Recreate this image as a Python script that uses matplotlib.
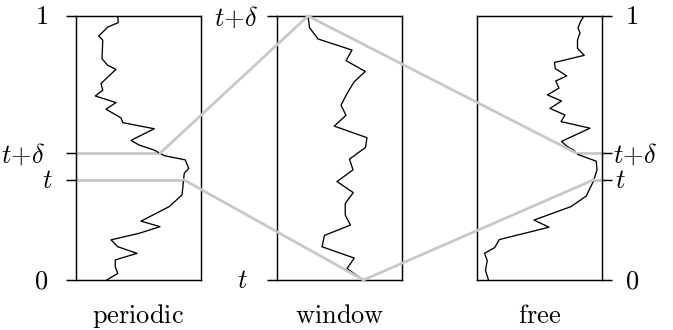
import numpy as np
import matplotlib
matplotlib.use('Agg')
import matplotlib.pyplot as plt
from matplotlib.patches import ConnectionPatch

plt.rcParams['font.family'] = 'serif'
plt.rcParams['font.serif'] = ['cmr10']
plt.rcParams['mathtext.fontset'] = 'cm'
plt.rcParams['axes.unicode_minus'] = False

## Window bounds (fraction of the full time range)
t = 0.38
delta = 0.10

## Curves, time going up
periodic_time = [0.0, 0.025, 0.050, 0.076, 0.101, 0.126, 0.152, 0.177, 0.202,
                 0.223, 0.278, 0.322, 0.366, 0.404, 0.423, 0.455, 0.471, 0.492,
                 0.511, 0.529, 0.573, 0.596, 0.614, 0.647, 0.672, 0.697, 0.719,
                 0.744, 0.756, 0.798, 0.813, 0.838, 0.908, 0.924, 0.958, 0.975, 1.0]
periodic_value = [0.246, 0.334, 0.314, 0.314, 0.488, 0.334, 0.280, 0.506, 0.672,
                  0.520, 0.746, 0.848, 0.858, 0.866, 0.902, 0.874, 0.706, 0.626,
                  0.506, 0.440, 0.626, 0.374, 0.360, 0.240, 0.320, 0.154, 0.214,
                  0.200, 0.226, 0.320, 0.254, 0.208, 0.214, 0.182, 0.254, 0.338, 0.334]

# window axis runs from t (0) to t+delta (1)
window_time = [0.0, 0.043, 0.083, 0.126, 0.169, 0.208, 0.246, 0.290, 0.331,
               0.373, 0.417, 0.458, 0.502, 0.539, 0.583, 0.624, 0.662, 0.706,
               0.750, 0.790, 0.831, 0.871, 0.913, 0.956, 1.0]
window_value = [0.692, 0.560, 0.618, 0.360, 0.380, 0.588, 0.546, 0.546, 0.610,
                0.480, 0.608, 0.580, 0.708, 0.720, 0.458, 0.552, 0.512, 0.560,
                0.616, 0.706, 0.552, 0.600, 0.328, 0.260, 0.248]

free_time = [0.0, 0.036, 0.074, 0.101, 0.123, 0.153, 0.200, 0.227, 0.278, 0.318,
             0.375, 0.417, 0.450, 0.476, 0.491, 0.506, 0.525, 0.575, 0.600, 0.625,
             0.650, 0.678, 0.701, 0.727, 0.754, 0.773, 0.801, 0.824, 0.851, 0.877,
             0.909, 0.936, 0.955, 0.979, 1.0]
free_value = [0.092, 0.068, 0.082, 0.060, 0.142, 0.178, 0.576, 0.456, 0.752, 0.874,
              0.932, 0.960, 0.954, 0.804, 0.776, 0.720, 0.676, 0.904, 0.672, 0.704,
              0.584, 0.676, 0.564, 0.656, 0.630, 0.718, 0.626, 0.620, 0.858, 0.804,
              0.804, 0.824, 0.808, 0.828, 0.856]

panel_names = ['periodic', 'window', 'free']

## Style
FS = 19
GREY = '#c8c8c8'
GREY_LW = 2.0
LINE_LW = 0.95
BOX_LW = 1.05

fig = plt.figure(figsize=(6.73, 3.30), dpi=100)
W = 125 / 673.
H = 264 / 330.
B = 50 / 330.
ax_p = fig.add_axes([76 / 673., B, W, H])
ax_w = fig.add_axes([277 / 673., B, W, H])
ax_f = fig.add_axes([477 / 673., B, W, H])
axes = [ax_p, ax_w, ax_f]

curves = [(periodic_value, periodic_time), (window_value, window_time),
          (free_value, free_time)]
for ax, (vals, times), name in zip(axes, curves, panel_names):
    ax.plot(vals, times, color='k', lw=LINE_LW, zorder=3)
    ax.set_xlim(0, 1)
    ax.set_ylim(0, 1)
    ax.set_xticks([])
    for sp in ax.spines.values():
        sp.set_linewidth(BOX_LW)
    ax.tick_params(axis='y', direction='out', length=7, width=BOX_LW,
                   labelleft=False, labelright=False)
    ax.annotate('$\\mathrm{' + name + '}$', xy=(0.5, 0), xycoords='axes fraction',
                xytext=(0, -43), textcoords='offset pixels',
                ha='center', va='baseline', fontsize=FS)


def tick_text(ax, side, y, label, gap):
    if side == 'left':
        x, dx, ha = 0, -gap, 'right'
    else:
        x, dx, ha = 1, gap, 'left'
    ax.annotate(label, xy=(x, y), xycoords=ax.get_yaxis_transform(),
                xytext=(dx, -1.5), textcoords='offset pixels',
                ha=ha, va='center', fontsize=FS)


tdl = '$t{+}\\delta$'
# periodic: ticks on the left
ax_p.set_yticks([0, t, t + delta, 1])
for y, lab, gap in zip([0, t, t + delta, 1], ['$0$', '$t$', tdl, '$1$'], [28, 23, 31, 28]):
    tick_text(ax_p, 'left', y, lab, gap)

# window: ticks on the left, local 0..1 <-> t..t+delta
ax_w.set_yticks([0, 1])
for y, lab, gap in zip([0, 1], ['$t$', tdl], [29, 19]):
    tick_text(ax_w, 'left', y, lab, gap)

# free: ticks on the right
ax_f.yaxis.tick_right()
ax_f.tick_params(axis='y', direction='out', length=7, width=BOX_LW,
                 labelleft=False, labelright=False)
ax_f.set_yticks([0, t, t + delta, 1])
for y, lab, gap in zip([0, t, t + delta, 1], ['$0$', '$t$', tdl, '$1$'], [23, 13, 11, 23]):
    tick_text(ax_f, 'right', y, lab, gap)

## Grey connectors
p_t = np.interp(t, periodic_time, periodic_value)
p_td = np.interp(t + delta, periodic_time, periodic_value)
f_t = np.interp(t, free_time, free_value)
f_td = np.interp(t + delta, free_time, free_value)
w_bot = window_value[0]
w_top = window_value[-1]

ax_p.plot([0, p_td], [t + delta, t + delta], color=GREY, lw=GREY_LW, zorder=2,
          solid_capstyle='butt')
ax_p.plot([0, p_t], [t, t], color=GREY, lw=GREY_LW, zorder=2, solid_capstyle='butt')
ax_f.plot([f_td, 1], [t + delta, t + delta], color=GREY, lw=GREY_LW, zorder=2,
          solid_capstyle='butt')
ax_f.plot([f_t, 1], [t, t], color=GREY, lw=GREY_LW, zorder=2, solid_capstyle='butt')

links = [
    (ax_p, (p_td, t + delta), ax_w, (w_top, 1)),
    (ax_p, (p_t, t), ax_w, (w_bot, 0)),
    (ax_w, (w_top, 1), ax_f, (f_td, t + delta)),
    (ax_w, (w_bot, 0), ax_f, (f_t, t)),
]
for axA, xyA, axB, xyB in links:
    con = ConnectionPatch(xyA=xyA, coordsA=axA.transData,
                          xyB=xyB, coordsB=axB.transData,
                          color=GREY, lw=GREY_LW, zorder=1)
    fig.add_artist(con)

fig.savefig('out.png', dpi=100)
